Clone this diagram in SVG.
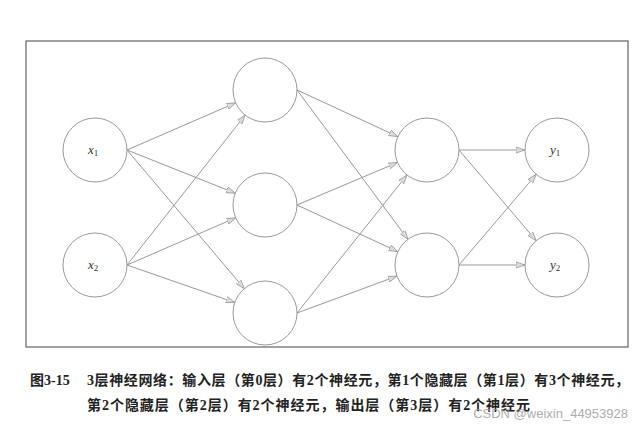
<svg xmlns="http://www.w3.org/2000/svg" width="643" height="430" viewBox="0 0 643 430">
<style>
.n{fill:#fff;stroke:#999;stroke-width:1}
.e{stroke:#999;stroke-width:1;fill:none;marker-end:url(#a)}
.l{font-family:"Liberation Serif",serif;font-style:italic;font-size:13px;fill:#333}
.s{font-family:"Liberation Serif",serif;font-size:9px;fill:#333}
.c{font-family:"Liberation Serif","Noto Sans CJK SC",serif;font-size:14px;font-weight:bold;fill:#222}
</style>
<defs><marker id="a" markerWidth="10" markerHeight="8" refX="9" refY="4" orient="auto" markerUnits="userSpaceOnUse"><path d="M0,1 L9,4 L0,7 Z" fill="#ddd" stroke="#999" stroke-width="0.8"/></marker></defs>
<rect x="26" y="41" width="602" height="306" fill="#fff" stroke="#444" stroke-width="1"/>
<g id="connectors">
<line class="e" x1="127" y1="150" x2="235.7" y2="102.8"/>
<line class="e" x1="127" y1="150" x2="235.3" y2="193.2"/>
<line class="e" x1="127" y1="150" x2="244.3" y2="288.6"/>
<line class="e" x1="127" y1="265" x2="245.2" y2="115.1"/>
<line class="e" x1="127" y1="265" x2="235.7" y2="217.8"/>
<line class="e" x1="127" y1="265" x2="234.8" y2="302.5"/>
<line class="e" x1="297" y1="90" x2="397.9" y2="136.6"/>
<line class="e" x1="297" y1="90" x2="407.9" y2="239.3"/>
<line class="e" x1="297" y1="205" x2="397.5" y2="162.5"/>
<line class="e" x1="297" y1="205" x2="397.9" y2="251.6"/>
<line class="e" x1="297" y1="313" x2="407" y2="175"/>
<line class="e" x1="297" y1="313" x2="397" y2="276.1"/>
<line class="e" x1="459" y1="150" x2="525" y2="150"/>
<line class="e" x1="459" y1="150" x2="536.2" y2="240.6"/>
<line class="e" x1="459" y1="265" x2="536.2" y2="174.4"/>
<line class="e" x1="459" y1="265" x2="525" y2="265"/>
</g>
<g id="x1"><circle class="n" cx="95" cy="150" r="32"/><text class="l" x="88" y="154">x<tspan class="s" font-style="normal" dy="2">1</tspan></text></g>
<g id="x2"><circle class="n" cx="95" cy="265" r="32"/><text class="l" x="88" y="269">x<tspan class="s" font-style="normal" dy="2">2</tspan></text></g>
<g id="h11"><circle class="n" cx="265" cy="90" r="32"/></g>
<g id="h12"><circle class="n" cx="265" cy="205" r="32"/></g>
<g id="h13"><circle class="n" cx="265" cy="313" r="32"/></g>
<g id="h21"><circle class="n" cx="427" cy="150" r="32"/></g>
<g id="h22"><circle class="n" cx="427" cy="265" r="32"/></g>
<g id="y1"><circle class="n" cx="557" cy="150" r="32"/><text class="l" x="550" y="154">y<tspan class="s" font-style="normal" dy="2">1</tspan></text></g>
<g id="y2"><circle class="n" cx="557" cy="265" r="32"/><text class="l" x="550" y="269">y<tspan class="s" font-style="normal" dy="2">2</tspan></text></g>
<text class="c" x="30" y="385">图3-15</text>
<text class="c" x="87" y="385" textLength="542" lengthAdjust="spacing">3层神经网络：输入层（第0层）有2个神经元，第1个隐藏层（第1层）有3个神经元，</text>
<text class="c" x="87" y="410" textLength="443" lengthAdjust="spacing">第2个隐藏层（第2层）有2个神经元，输出层（第3层）有2个神经元</text>
<text x="628" y="418" text-anchor="end" font-family="Liberation Sans,sans-serif" font-size="13" fill="#999" opacity="0.8">CSDN @weixin_44953928</text>
</svg>
